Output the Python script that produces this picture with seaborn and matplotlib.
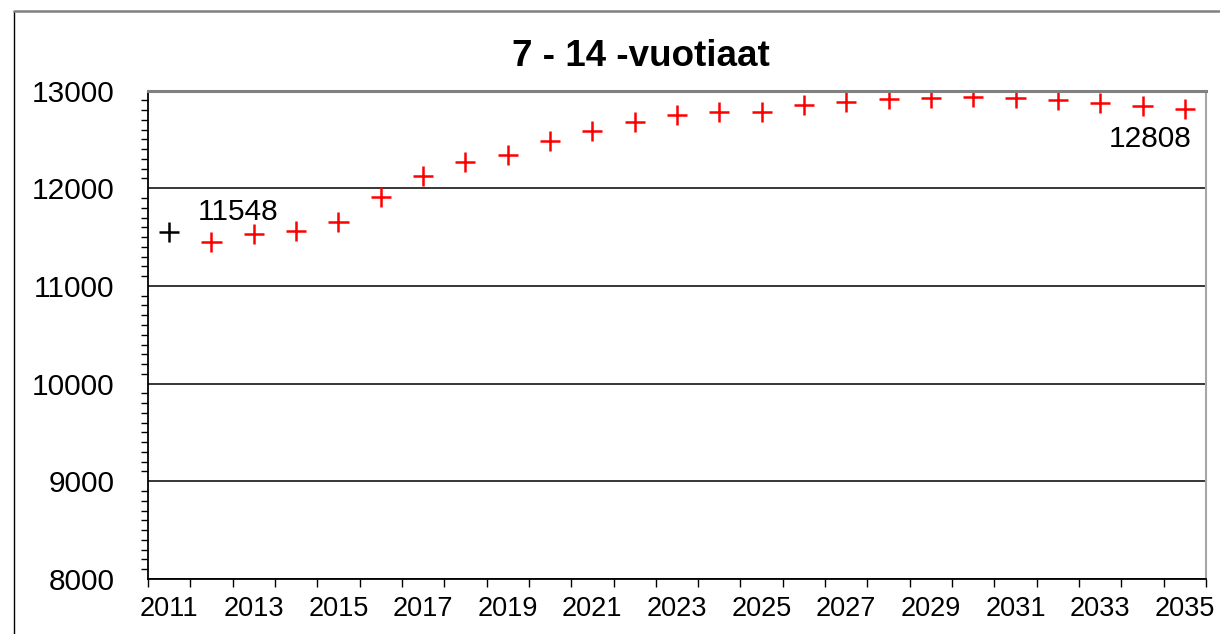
import numpy as np
import pandas as pd
import matplotlib
matplotlib.use("Agg")
import matplotlib.pyplot as plt
import seaborn as sns
from matplotlib.ticker import MultipleLocator, FixedLocator
from matplotlib.lines import Line2D

# Number of 7-14 year olds: 2011 observed, 2012-2035 projection
years = list(range(2011, 2036))
children = [11548, 11453, 11532, 11563, 11658, 11914, 12129, 12266, 12341,
            12487, 12590, 12682, 12750, 12784, 12784, 12853, 12886, 12911,
            12921, 12931, 12921, 12904, 12876, 12842, 12808]
kind = ["observed"] + ["projection"] * (len(years) - 1)
tick_years = years[::2]
title = "7 - 14 -vuotiaat"
y_ticks = [8000, 9000, 10000, 11000, 12000, 13000]

df = pd.DataFrame({"year": years, "children": children, "kind": kind})

sns.set_style("white")
plt.rcParams["font.family"] = ["Liberation Sans", "DejaVu Sans"]
plt.rcParams.update({"text.color": "black", "xtick.color": "black",
                     "ytick.color": "black", "axes.labelcolor": "black"})

W, H = 1220, 634
fig = plt.figure(figsize=(W / 100, H / 100), dpi=100)
fig.patch.set_facecolor("white")

# chart area frame (left and top edges)
fig.add_artist(Line2D([14 / W, 14 / W], [0, 1 - 10.5 / H], color="black",
                      lw=1.0, transform=fig.transFigure))
fig.add_artist(Line2D([14 / W, 1], [1 - 10.5 / H, 1 - 10.5 / H], color="#808080",
                      lw=1.8, transform=fig.transFigure))

left, right, top, bottom = 148, 1206, 90.6, 578.9
ax = fig.add_axes([left / W, 1 - bottom / H, (right - left) / W, (bottom - top) / H])

sns.scatterplot(data=df, x="year", y="children", hue="kind",
                palette={"observed": "black", "projection": "#ff0000"},
                marker="+", s=210, linewidth=1.8, legend=False, ax=ax, zorder=5)

ax.set_xlim(years[0] - 0.5, years[-1] + 0.5)
ax.set_ylim(y_ticks[0], y_ticks[-1])

# y axis
ax.yaxis.set_major_locator(FixedLocator(y_ticks))
ax.yaxis.set_minor_locator(MultipleLocator(100))
ax.set_yticklabels([str(v) for v in y_ticks])
ax.tick_params(axis="y", which="major", direction="out", length=7, width=1.0,
               color="black", labelsize=21.5, pad=17)
ax.tick_params(axis="y", which="minor", direction="out", length=5, width=1.0,
               color="black", left=True)
ax.yaxis.grid(True, which="major", color="black", lw=1.1)

# x axis: labels at category centres, tick marks between categories
ax.set_xticks(tick_years)
ax.set_xticklabels([str(y) for y in tick_years])
ax.xaxis.set_minor_locator(FixedLocator([y - 0.5 for y in years] + [years[-1] + 0.5]))
ax.tick_params(axis="x", which="major", length=0, labelsize=19.5, pad=12)
ax.tick_params(axis="x", which="minor", direction="out", length=6, width=1.0,
               color="black", bottom=True)

ax.set_xlabel("")
ax.set_ylabel("")

for side in ("left", "bottom"):
    ax.spines[side].set_color("black")
    ax.spines[side].set_linewidth(1.3)
ax.spines["top"].set_color("#808080")
ax.spines["top"].set_linewidth(2.2)
ax.spines["right"].set_color("#a6a6a6")
ax.spines["right"].set_linewidth(1.5)
for s in ax.spines.values():
    s.set_zorder(6)

# value labels for first and last year
ax.annotate(str(children[0]), xy=(years[0], children[0]), xytext=(69, 20),
            textcoords="offset pixels", ha="center", va="center", fontsize=21.5)
ax.annotate(str(children[-1]), xy=(years[-1], children[-1]), xytext=(-35, -30),
            textcoords="offset pixels", ha="center", va="center", fontsize=21.5)

fig.text(641 / W, 1 - 56 / H, title, ha="center", va="center",
         fontsize=26.5, fontweight="bold")

fig.savefig("out.png", dpi=100, facecolor="white")
